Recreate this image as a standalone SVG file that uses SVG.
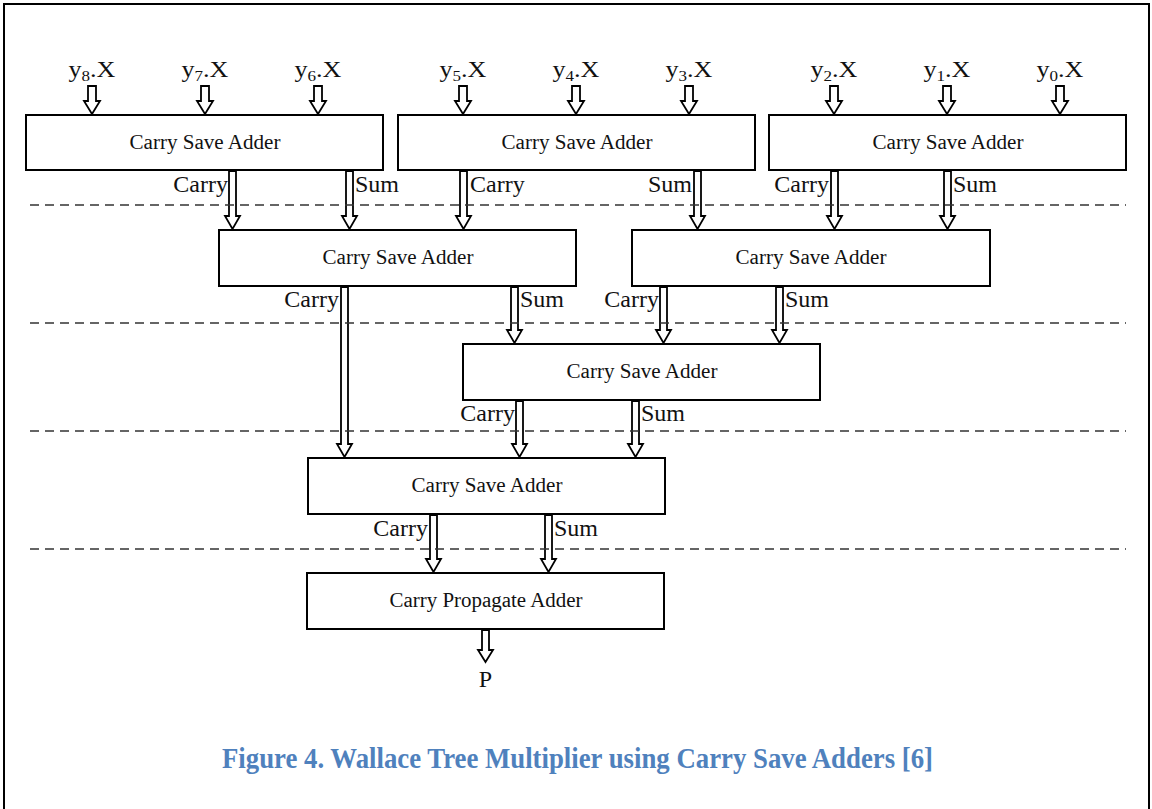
<svg xmlns="http://www.w3.org/2000/svg" width="1152" height="809" viewBox="0 0 1152 809">
  <style>
    .box { fill: #ffffff; stroke: #000000; stroke-width: 2; }
    .box-label { font-family: "Liberation Serif", "Times New Roman", serif; font-size: 20px; fill: #111111; text-anchor: middle; }
    .io { font-family: "Liberation Serif", "Times New Roman", serif; font-size: 24px; fill: #111111; }
    .in { font-size: 23px; text-anchor: middle; }
    .sub { font-size: 15px; }
    .wire { fill: #ffffff; stroke: #000000; stroke-width: 1.8; stroke-linejoin: miter; }
    .stage { fill: none; stroke: #333333; stroke-width: 1.3; stroke-dasharray: 9 6; }
    .caption { font-family: "Liberation Serif", "Times New Roman", serif; font-size: 30px; font-weight: bold; fill: #4F81BD; text-anchor: middle; }
  </style>

  <rect x="0" y="0" width="1152" height="809" fill="#ffffff"/>
  <rect x="4" y="4" width="1145" height="812" fill="none" stroke="#000000" stroke-width="2"/>

  <!-- partial-product inputs -->
  <g id="inputs" class="io">
    <text class="in" x="92" y="77" textLength="47" lengthAdjust="spacingAndGlyphs">y<tspan class="sub" dy="4">8</tspan><tspan dy="-4">.X</tspan></text>
    <text class="in" x="205" y="77" textLength="47" lengthAdjust="spacingAndGlyphs">y<tspan class="sub" dy="4">7</tspan><tspan dy="-4">.X</tspan></text>
    <text class="in" x="318" y="77" textLength="47" lengthAdjust="spacingAndGlyphs">y<tspan class="sub" dy="4">6</tspan><tspan dy="-4">.X</tspan></text>
    <text class="in" x="463" y="77" textLength="47" lengthAdjust="spacingAndGlyphs">y<tspan class="sub" dy="4">5</tspan><tspan dy="-4">.X</tspan></text>
    <text class="in" x="576" y="77" textLength="47" lengthAdjust="spacingAndGlyphs">y<tspan class="sub" dy="4">4</tspan><tspan dy="-4">.X</tspan></text>
    <text class="in" x="689" y="77" textLength="47" lengthAdjust="spacingAndGlyphs">y<tspan class="sub" dy="4">3</tspan><tspan dy="-4">.X</tspan></text>
    <text class="in" x="834" y="77" textLength="47" lengthAdjust="spacingAndGlyphs">y<tspan class="sub" dy="4">2</tspan><tspan dy="-4">.X</tspan></text>
    <text class="in" x="947" y="77" textLength="47" lengthAdjust="spacingAndGlyphs">y<tspan class="sub" dy="4">1</tspan><tspan dy="-4">.X</tspan></text>
    <text class="in" x="1060" y="77" textLength="47" lengthAdjust="spacingAndGlyphs">y<tspan class="sub" dy="4">0</tspan><tspan dy="-4">.X</tspan></text>
  </g>

  <!-- adder blocks -->
  <g id="csa-1a"><rect class="box" x="26" y="115" width="357" height="55"/><text class="box-label" x="205" y="149" textLength="151" lengthAdjust="spacingAndGlyphs">Carry Save Adder</text></g>
  <g id="csa-1b"><rect class="box" x="398" y="115" width="357" height="55"/><text class="box-label" x="577" y="149" textLength="151" lengthAdjust="spacingAndGlyphs">Carry Save Adder</text></g>
  <g id="csa-1c"><rect class="box" x="769" y="115" width="357" height="55"/><text class="box-label" x="948" y="149" textLength="151" lengthAdjust="spacingAndGlyphs">Carry Save Adder</text></g>
  <g id="csa-2a"><rect class="box" x="219" y="230" width="357" height="56"/><text class="box-label" x="398" y="264" textLength="151" lengthAdjust="spacingAndGlyphs">Carry Save Adder</text></g>
  <g id="csa-2b"><rect class="box" x="632" y="230" width="358" height="56"/><text class="box-label" x="811" y="264" textLength="151" lengthAdjust="spacingAndGlyphs">Carry Save Adder</text></g>
  <g id="csa-3"><rect class="box" x="463" y="344" width="357" height="56"/><text class="box-label" x="642" y="378" textLength="151" lengthAdjust="spacingAndGlyphs">Carry Save Adder</text></g>
  <g id="csa-4"><rect class="box" x="308" y="458" width="357" height="56"/><text class="box-label" x="487" y="492" textLength="151" lengthAdjust="spacingAndGlyphs">Carry Save Adder</text></g>
  <g id="cpa"><rect class="box" x="307" y="573" width="357" height="56"/><text class="box-label" x="486" y="607" textLength="193" lengthAdjust="spacingAndGlyphs">Carry Propagate Adder</text></g>

  <!-- hollow arrows between stages -->
  <g id="connectors">
    <!-- inputs into first row -->
    <path class="wire" d="M88,86 H96 V101 H100 L92,114 L84,101 H88 Z"/>
    <path class="wire" d="M201,86 H209 V101 H213 L205,114 L197,101 H201 Z"/>
    <path class="wire" d="M314,86 H322 V101 H326 L318,114 L310,101 H314 Z"/>
    <path class="wire" d="M459,86 H467 V101 H471 L463,114 L455,101 H459 Z"/>
    <path class="wire" d="M572,86 H580 V101 H584 L576,114 L568,101 H572 Z"/>
    <path class="wire" d="M685,86 H693 V101 H697 L689,114 L681,101 H685 Z"/>
    <path class="wire" d="M830,86 H838 V101 H842 L834,114 L826,101 H830 Z"/>
    <path class="wire" d="M943,86 H951 V101 H955 L947,114 L939,101 H943 Z"/>
    <path class="wire" d="M1056,86 H1064 V101 H1068 L1060,114 L1052,101 H1056 Z"/>

    <!-- row 1 -> row 2 -->
    <path class="wire" d="M229,171 H236 V216 H240 L232.5,229 L225,216 H229 Z"/>
    <path class="wire" d="M346,171 H353 V216 H357 L349.5,229 L342,216 H346 Z"/>
    <path class="wire" d="M460,171 H467 V216 H471 L463.5,229 L456,216 H460 Z"/>
    <path class="wire" d="M694,171 H701 V216 H705 L697.5,229 L690,216 H694 Z"/>
    <path class="wire" d="M831,171 H838 V216 H842 L834.5,229 L827,216 H831 Z"/>
    <path class="wire" d="M944,171 H951 V216 H955 L947.5,229 L940,216 H944 Z"/>

    <!-- row 2 -> row 3 / row 4 -->
    <path class="wire" d="M341,287 H348 V444 H352 L344.5,457 L337,444 H341 Z"/>
    <path class="wire" d="M511,287 H518 V330 H522 L514.5,343 L507,330 H511 Z"/>
    <path class="wire" d="M660,287 H667 V330 H671 L663.5,343 L656,330 H660 Z"/>
    <path class="wire" d="M776,287 H783 V330 H787 L779.5,343 L772,330 H776 Z"/>

    <!-- row 3 -> row 4 -->
    <path class="wire" d="M516,401 H523 V444 H527 L519.5,457 L512,444 H516 Z"/>
    <path class="wire" d="M632,401 H639 V444 H643 L635.5,457 L628,444 H632 Z"/>

    <!-- row 4 -> final adder -->
    <path class="wire" d="M430,515 H437 V559 H441 L433.5,572 L426,559 H430 Z"/>
    <path class="wire" d="M545,515 H552 V559 H556 L548.5,572 L541,559 H545 Z"/>

    <!-- final adder output -->
    <path class="wire" d="M482,630 H489 V650 H493 L485.5,662 L478,650 H482 Z"/>
  </g>

  <!-- stage boundaries -->
  <g id="stages">
    <line class="stage" x1="30" y1="205" x2="1126" y2="205"/>
    <line class="stage" x1="30" y1="323" x2="1126" y2="323"/>
    <line class="stage" x1="30" y1="431" x2="1126" y2="431"/>
    <line class="stage" x1="30" y1="549" x2="1126" y2="549"/>
  </g>

  <!-- carry / sum signal names -->
  <g id="signal-labels" class="io">
    <text x="228" y="192" text-anchor="end">Carry</text>
    <text x="355" y="192">Sum</text>
    <text x="470" y="192">Carry</text>
    <text x="692" y="192" text-anchor="end">Sum</text>
    <text x="829" y="192" text-anchor="end">Carry</text>
    <text x="953" y="192">Sum</text>

    <text x="339" y="307" text-anchor="end">Carry</text>
    <text x="520" y="307">Sum</text>
    <text x="659" y="307" text-anchor="end">Carry</text>
    <text x="785" y="307">Sum</text>

    <text x="515" y="421" text-anchor="end">Carry</text>
    <text x="641" y="421">Sum</text>

    <text x="428" y="536" text-anchor="end">Carry</text>
    <text x="554" y="536">Sum</text>

    <text x="485.5" y="687" text-anchor="middle">P</text>
  </g>

  <text class="caption" x="577.5" y="768" textLength="711" lengthAdjust="spacingAndGlyphs">Figure 4. Wallace Tree Multiplier using Carry Save Adders [6]</text>
</svg>
